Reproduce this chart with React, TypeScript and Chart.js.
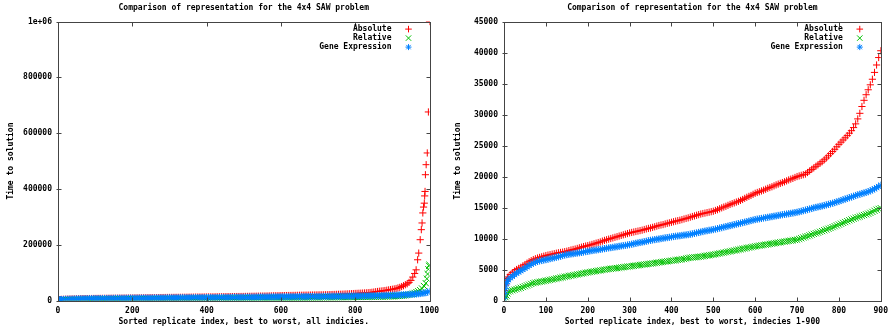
import React, { useEffect, useRef } from 'react';
import { Chart, registerables } from 'chart.js';

Chart.register(...registerables);

const chartTitle = 'Comparison of representation for the 4x4 SAW problem';
const yAxisTitle = 'Time to solution';
const leftXAxisTitle = 'Sorted replicate index, best to worst, all indicies.';
const rightXAxisTitle = 'Sorted replicate index, best to worst, indecies 1-900';
const seriesNames = ['Absolute', 'Relative', 'Gene Expression'];
const seriesColors = ['#ff0000', '#00c000', '#0080ff'];

// sorted replicate index (sampled)
const sampleIndex = [0, 2, 4, 6, 8,
  10, 15, 20, 25, 30, 35, 40, 45, 50, 55, 60, 65, 70, 75, 80, 85, 90, 95,
  100, 105, 110, 115, 120, 125, 130, 135, 140, 145, 150, 155, 160, 165, 170, 175, 180, 185, 190, 195,
  200, 205, 210, 215, 220, 225, 230, 235, 240, 245, 250, 255, 260, 265, 270, 275, 280, 285, 290, 295,
  300, 305, 310, 315, 320, 325, 330, 335, 340, 345, 350, 355, 360, 365, 370, 375, 380, 385, 390, 395,
  400, 405, 410, 415, 420, 425, 430, 435, 440, 445, 450, 455, 460, 465, 470, 475, 480, 485, 490, 495,
  500, 505, 510, 515, 520, 525, 530, 535, 540, 545, 550, 555, 560, 565, 570, 575, 580, 585, 590, 595,
  600, 605, 610, 615, 620, 625, 630, 635, 640, 645, 650, 655, 660, 665, 670, 675, 680, 685, 690, 695,
  700, 705, 710, 715, 720, 725, 730, 735, 740, 745, 750, 755, 760, 765, 770, 775, 780, 785, 790, 795,
  800, 805, 810, 815, 820, 825, 830, 835, 840, 845, 850, 855, 860, 865, 870, 875, 880, 885, 890, 895,
  900];

const absolute = [600, 1600, 2500, 3200, 3550,
  3800, 4200, 4500, 4750, 5000, 5180, 5350, 5580, 5800, 6030, 6250, 6430, 6600, 6730, 6850, 6950, 7050, 7150,
  7250, 7330, 7400, 7480, 7550, 7630, 7700, 7750, 7800, 7880, 7950, 8050, 8150, 8230, 8300, 8400, 8500, 8600, 8700, 8780,
  8850, 8950, 9050, 9150, 9250, 9350, 9450, 9580, 9700, 9800, 9900, 10000, 10100, 10200, 10300, 10400, 10500, 10600, 10700, 10800,
  10900, 10980, 11050, 11130, 11200, 11280, 11350, 11450, 11550, 11630, 11700, 11800, 11900, 12000, 12100, 12180, 12250, 12350, 12450, 12530,
  12620, 12710, 12800, 12880, 12950, 13050, 13150, 13240, 13330, 13440, 13550, 13650, 13750, 13850, 13950, 14030, 14100, 14180, 14250, 14330,
  14400, 14530, 14650, 14800, 14950, 15080, 15200, 15350, 15500, 15630, 15750, 15880, 16000, 16150, 16300, 16480, 16650, 16800, 16950, 17130,
  17300, 17430, 17550, 17680, 17800, 17950, 18100, 18230, 18350, 18500, 18650, 18780, 18900, 19030, 19150, 19300, 19450, 19580, 19700, 19850,
  20000, 20100, 20200, 20300, 20400, 20650, 20900, 21150, 21400, 21650, 21900, 22150, 22400, 22700, 23000, 23350, 23700, 24050, 24400, 24800,
  25200, 25550, 25900, 26250, 26600, 27000, 27400, 27900, 28500, 29300, 30200, 31300, 32300, 33200, 34000, 34800, 35700, 36800, 38000, 39200,
  40300];

const relative = [0, 200, 500, 800, 1150,
  1460, 1550, 1650, 1750, 1850, 1950, 2050, 2180, 2300, 2430, 2550, 2680, 2810, 2880, 2950, 3010, 3070, 3130,
  3190, 3260, 3330, 3400, 3470, 3540, 3610, 3680, 3750, 3820, 3880, 3950, 4010, 4080, 4140, 4210, 4270, 4340, 4400, 4470,
  4530, 4590, 4640, 4700, 4750, 4810, 4860, 4920, 4970, 5030, 5080, 5120, 5160, 5200, 5240, 5290, 5330, 5380, 5420, 5460,
  5500, 5550, 5590, 5640, 5680, 5730, 5770, 5820, 5860, 5900, 5940, 5990, 6040, 6090, 6140, 6190, 6230, 6280, 6330, 6380,
  6420, 6470, 6510, 6560, 6600, 6650, 6700, 6780, 6860, 6910, 6950, 6980, 7000, 7040, 7080, 7140, 7200, 7250, 7300, 7350,
  7400, 7470, 7530, 7600, 7660, 7730, 7800, 7870, 7930, 8000, 8070, 8140, 8200, 8270, 8340, 8400, 8470, 8540, 8600, 8670,
  8740, 8800, 8850, 8910, 8960, 9010, 9060, 9120, 9170, 9230, 9280, 9340, 9390, 9450, 9500, 9560, 9610, 9660, 9710, 9770,
  9820, 9940, 10050, 10170, 10280, 10390, 10500, 10630, 10750, 10850, 10950, 11080, 11200, 11330, 11450, 11580, 11700, 11840, 11980, 12120,
  12250, 12390, 12520, 12660, 12800, 12940, 13070, 13200, 13330, 13450, 13560, 13680, 13790, 13900, 14010, 14150, 14300, 14480, 14650, 14780,
  14900];

const geneExpression = [300, 1100, 1900, 2700, 3050,
  3350, 3650, 3900, 4150, 4400, 4600, 4800, 5000, 5200, 5430, 5650, 5850, 6050, 6180, 6300, 6380, 6450, 6520,
  6590, 6670, 6750, 6830, 6900, 6980, 7050, 7150, 7250, 7330, 7400, 7450, 7500, 7550, 7600, 7650, 7700, 7760, 7820, 7880,
  7930, 7990, 8050, 8100, 8150, 8200, 8250, 8310, 8370, 8430, 8480, 8530, 8580, 8630, 8680, 8740, 8800, 8850, 8900, 8960,
  9010, 9080, 9150, 9230, 9300, 9360, 9420, 9490, 9560, 9640, 9710, 9770, 9820, 9880, 9930, 9990, 10040, 10100, 10150, 10200,
  10260, 10320, 10370, 10410, 10450, 10500, 10550, 10590, 10630, 10690, 10750, 10830, 10900, 10980, 11050, 11130, 11200, 11260, 11320, 11380,
  11440, 11520, 11600, 11680, 11760, 11840, 11920, 12000, 12080, 12160, 12240, 12320, 12400, 12480, 12560, 12640, 12720, 12810, 12900, 12980,
  13060, 13120, 13180, 13240, 13300, 13360, 13420, 13480, 13540, 13600, 13660, 13720, 13780, 13840, 13900, 13950, 14000, 14060, 14120, 14180,
  14240, 14320, 14400, 14490, 14580, 14670, 14760, 14850, 14950, 15020, 15100, 15170, 15250, 15330, 15420, 15510, 15600, 15700, 15800, 15910,
  16020, 16130, 16250, 16360, 16480, 16590, 16700, 16820, 16940, 17050, 17150, 17250, 17350, 17450, 17550, 17700, 17850, 18020, 18200, 18400,
  18600];

// worst replicates (indices 901-1000), only in the left chart
const absoluteTailIndex = [905, 910, 915, 920, 925, 930, 935, 940, 945, 950, 955, 960, 964, 968, 971, 975, 978, 980, 982, 984, 986, 987, 988, 989, 991, 994, 997, 1000];
const absoluteTail = [41500, 43000, 45000, 47000, 50000, 53000, 56500, 60000, 65000, 72000, 84000, 97000, 110000, 146000, 170000, 218000, 254000, 278000, 314000, 335000, 349000, 375000, 391000, 451000, 487000, 529000, 676000, 1000000];
const relativeTailIndex = [905, 910, 915, 920, 925, 930, 935, 940, 945, 950, 955, 960, 965, 970, 975, 980, 985, 990, 993, 995, 997, 999, 1000];
const relativeTail = [15300, 15800, 16300, 16800, 17400, 18000, 18900, 19800, 21000, 22500, 24500, 27000, 30000, 33000, 37000, 43000, 52000, 62000, 78000, 95000, 112000, 124000, 128000];
const geneTailIndex = [905, 910, 915, 920, 925, 930, 935, 940, 945, 950, 955, 960, 965, 970, 975, 980, 985, 990, 995, 1000];
const geneTail = [18900, 19200, 19500, 19800, 20100, 20500, 20800, 21200, 21600, 22000, 22500, 23000, 23600, 24200, 25000, 25800, 26800, 28000, 30000, 33000];

const FONT = "'DejaVu Sans Mono', monospace";

function pts(xs: number[], ys: number[]) {
  return xs.map((x, i) => ({ x, y: ys[i] }));
}

function drawMarker(ctx: CanvasRenderingContext2D, kind: number, x: number, y: number) {
  ctx.beginPath();
  if (kind === 0 || kind === 2) {
    const r = kind === 0 ? 3.3 : 3;
    ctx.moveTo(x - r, y); ctx.lineTo(x + r, y);
    ctx.moveTo(x, y - r); ctx.lineTo(x, y + r);
  }
  if (kind === 1 || kind === 2) {
    const d = kind === 1 ? 2.7 : 2.2;
    ctx.moveTo(x - d, y - d); ctx.lineTo(x + d, y + d);
    ctx.moveTo(x - d, y + d); ctx.lineTo(x + d, y - d);
  }
  ctx.stroke();
}

const framePlugin = {
  id: 'gnuFrame',
  afterDraw(chart: any) {
    const { ctx, chartArea: a, scales } = chart;
    const L = Math.round(a.left) + 0.5, R = Math.round(a.right) + 0.5;
    const T = Math.round(a.top) + 0.5, B = Math.round(a.bottom) + 0.5;
    ctx.save();
    ctx.strokeStyle = '#444';
    ctx.lineWidth = 1;
    ctx.strokeRect(L, T, R - L, B - T);
    ctx.beginPath();
    scales.x.ticks.forEach((t: any) => {
      const px = Math.round(scales.x.getPixelForValue(t.value)) + 0.5;
      ctx.moveTo(px, B); ctx.lineTo(px, B - 4);
      ctx.moveTo(px, T); ctx.lineTo(px, T + 4);
    });
    scales.y.ticks.forEach((t: any) => {
      const py = Math.round(scales.y.getPixelForValue(t.value)) + 0.5;
      ctx.moveTo(L - 2, py); ctx.lineTo(L + 3, py);
      ctx.moveTo(R, py); ctx.lineTo(R - 4, py);
    });
    ctx.stroke();
    // key inside the plot, top right
    ctx.font = `bold 8px ${FONT}`;
    ctx.fillStyle = '#000';
    ctx.textAlign = 'right';
    ctx.textBaseline = 'middle';
    seriesNames.forEach((name, i) => {
      const y = a.top + 7.5 + i * 9;
      ctx.fillText(name, a.right - 38, y);
      ctx.strokeStyle = seriesColors[i];
      drawMarker(ctx, i, a.right - 21, y);
    });
    ctx.restore();
  },
};

function makeConfig(opts: {
  xMax: number; xStep: number; yMax: number; yStep: number;
  xTitle: string; padRight: number; yWidth: number; full: boolean;
}): any {
  const absPts = opts.full ? pts(sampleIndex, absolute).concat(pts(absoluteTailIndex, absoluteTail)) : pts(sampleIndex, absolute);
  const relPts = opts.full ? pts(sampleIndex, relative).concat(pts(relativeTailIndex, relativeTail)) : pts(sampleIndex, relative);
  const genePts = opts.full ? pts(sampleIndex, geneExpression).concat(pts(geneTailIndex, geneTail)) : pts(sampleIndex, geneExpression);
  const common = { showLine: false, borderWidth: 1, pointHoverRadius: 0 };
  const tickFont = { family: FONT, size: 8, weight: 'bold' };
  return {
    type: 'scatter',
    data: {
      datasets: [
        { ...common, label: seriesNames[0], data: absPts, pointStyle: 'cross', pointRadius: 3.6, borderColor: seriesColors[0], backgroundColor: seriesColors[0], order: 3 },
        { ...common, label: seriesNames[1], data: relPts, pointStyle: 'crossRot', pointRadius: 4.4, borderColor: seriesColors[1], backgroundColor: seriesColors[1], order: 2 },
        { ...common, label: seriesNames[2], data: genePts, pointStyle: 'star', pointRadius: 3.6, borderColor: seriesColors[2], backgroundColor: seriesColors[2], order: 1 },
      ],
    },
    options: {
      animation: false,
      responsive: false,
      devicePixelRatio: 1,
      events: [],
      layout: { padding: { top: 0, right: opts.padRight, bottom: 0, left: 0 } },
      plugins: {
        legend: { display: false },
        tooltip: { enabled: false },
        title: {
          display: true, text: chartTitle, fullSize: false, color: '#000',
          font: tickFont,
          padding: { top: 3, bottom: 9 },
        },
      },
      scales: {
        x: {
          type: 'linear', min: 0, max: opts.xMax,
          grid: { display: false, drawTicks: false }, border: { display: false },
          ticks: { stepSize: opts.xStep, autoSkip: false, maxRotation: 0, padding: 6, color: '#000', font: tickFont, callback: (v: number) => String(v) },
          title: { display: true, text: opts.xTitle, color: '#000', font: tickFont, padding: { top: 0, bottom: 3 } },
          afterFit: (s: any) => { s.height = 29.5; },
        },
        y: {
          type: 'linear', min: 0, max: opts.yMax,
          grid: { display: false, drawTicks: false }, border: { display: false },
          ticks: {
            stepSize: opts.yStep, autoSkip: false, padding: 6, color: '#000',
            font: tickFont,
            callback: (v: number) => (v === 1000000 ? '1e+06' : String(v)),
          },
          title: { display: true, text: yAxisTitle, color: '#000', font: tickFont, padding: { top: 6, bottom: 0 } },
          afterFit: (s: any) => { s.width = opts.yWidth; },
        },
      },
    },
    plugins: [framePlugin],
  };
}

function GnuChart({ config }: { config: any }) {
  const ref = useRef<HTMLCanvasElement>(null);
  useEffect(() => {
    const chart = new Chart(ref.current as HTMLCanvasElement, config);
    return () => chart.destroy();
  }, []);
  return <canvas ref={ref} width={447} height={330} style={{ display: 'block', width: 447, height: 330 }} />;
}

export default function App() {
  const left = makeConfig({ xMax: 1000, xStep: 200, yMax: 1000000, yStep: 200000, xTitle: leftXAxisTitle, padRight: 17.5, yWidth: 58, full: true });
  const right = makeConfig({ xMax: 900, xStep: 100, yMax: 45000, yStep: 5000, xTitle: rightXAxisTitle, padRight: 12, yWidth: 57, full: false });
  return (
    <div style={{ position: 'absolute', left: 0, top: 0, width: 894, height: 330, display: 'flex', background: '#fff' }}>
      <GnuChart config={left} />
      <GnuChart config={right} />
    </div>
  );
}
